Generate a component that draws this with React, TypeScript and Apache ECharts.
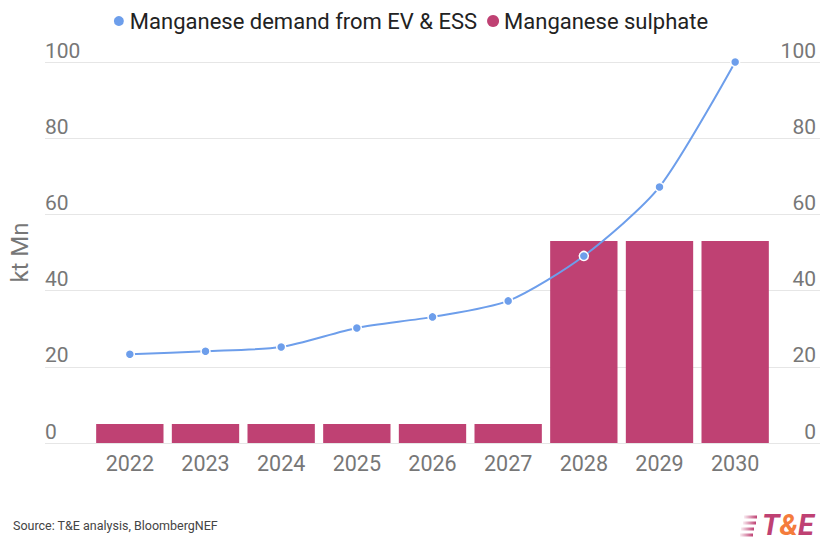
import React, { useEffect, useRef } from "react";
import * as echarts from "echarts";

const years = ["2022", "2023", "2024", "2025", "2026", "2027", "2028", "2029", "2030"];
const demand = [23.3, 24.1, 25.2, 30.2, 33.1, 37.3, 49.1, 67.2, 100];
const sulphate = [5, 5, 5, 5, 5, 5, 53, 53, 53];
const demandName = "Manganese demand from EV & ESS";
const sulphateName = "Manganese sulphate";
const yAxisTitle = "kt Mn";
const sourceText = "Source: T&E analysis, BloombergNEF";

const BLUE = "#6d9eeb";
const MAGENTA = "#bf4173";
const GREY = "#777777";
const FONT = "Roboto";

export default function App() {
  const ref = useRef<HTMLDivElement>(null);
  useEffect(() => {
    if (!ref.current) return;
    const chart = echarts.init(ref.current, undefined, { renderer: "svg" });
    const top = 62;
    const bottom = 98;
    const stripe = () =>
      new echarts.graphic.LinearGradient(0, 0, 1, 0, [
        { offset: 0, color: "rgba(191,65,115,0.1)" },
        { offset: 1, color: MAGENTA },
      ]);
    chart.setOption({
      animation: false,
      textStyle: { fontFamily: FONT },
      legend: {
        top: 5,
        left: "center",
        icon: "circle",
        itemWidth: 12,
        itemHeight: 12,
        itemGap: 10,
        textStyle: { fontSize: 22, color: "#222", fontFamily: FONT },
        data: [demandName, sulphateName],
      },
      grid: [
        { left: 45, right: 0, top, bottom },
        { left: 92, right: 47, top, bottom },
      ],
      xAxis: [
        { type: "value", gridIndex: 0, min: 0, max: 1, show: false },
        {
          type: "category",
          gridIndex: 1,
          data: years,
          axisLine: { show: false },
          axisTick: { show: false },
          axisLabel: { color: GREY, fontSize: 21.5, margin: 9, fontFamily: FONT },
        },
      ],
      yAxis: [
        {
          type: "value",
          gridIndex: 0,
          position: "left",
          min: 0,
          max: 100,
          interval: 20,
          name: yAxisTitle,
          nameLocation: "middle",
          nameGap: 13,
          nameTextStyle: { color: GREY, fontSize: 24, fontFamily: FONT },
          axisLine: { show: false },
          axisTick: { show: false },
          splitLine: { show: true, lineStyle: { color: "#e6e6e6", width: 1 } },
          axisLabel: {
            inside: true,
            margin: 0,
            verticalAlign: "bottom",
            padding: [0, 0, 1, 0],
            color: GREY,
            fontSize: 21,
            fontFamily: FONT,
          },
        },
        {
          type: "value",
          gridIndex: 0,
          position: "right",
          min: 0,
          max: 100,
          interval: 20,
          axisLine: { show: false },
          axisTick: { show: false },
          splitLine: { show: false },
          axisLabel: {
            inside: true,
            margin: 4,
            verticalAlign: "bottom",
            padding: [0, 0, 1, 0],
            color: GREY,
            fontSize: 21,
            fontFamily: FONT,
          },
        },
        { type: "value", gridIndex: 1, min: 0, max: 100, show: false },
      ],
      series: [
        {
          name: demandName,
          type: "line",
          xAxisIndex: 1,
          yAxisIndex: 2,
          data: demand,
          smooth: 0.25,
          z: 5,
          symbol: "circle",
          symbolSize: 9,
          lineStyle: { color: BLUE, width: 2 },
          itemStyle: { color: BLUE, borderColor: "#fff", borderWidth: 1.5 },
        },
        {
          name: sulphateName,
          type: "bar",
          xAxisIndex: 1,
          yAxisIndex: 2,
          data: sulphate,
          barCategoryGap: "11%",
          itemStyle: { color: MAGENTA },
        },
      ],
      graphic: [
        {
          type: "text",
          left: 13,
          top: 519,
          style: { text: sourceText, fontSize: 12.5, fill: "#444", fontFamily: FONT },
        },
        {
          type: "group",
          left: 740,
          top: 510,
          children: [
            { type: "rect", shape: { x: 4, y: 6, width: 13, height: 3 }, style: { fill: stripe() } },
            { type: "rect", shape: { x: 3, y: 12, width: 13, height: 3 }, style: { fill: stripe() } },
            { type: "rect", shape: { x: 1, y: 18, width: 13, height: 3 }, style: { fill: stripe() } },
            { type: "rect", shape: { x: 0, y: 24, width: 13, height: 3 }, style: { fill: stripe() } },
            {
              type: "text",
              x: 22,
              y: 0,
              style: {
                text: "{t|T}{a|&}{t|E}",
                fontFamily: FONT,
                rich: {
                  t: { fontSize: 29, lineHeight: 30, fontWeight: "bold", fontStyle: "italic", fill: MAGENTA, fontFamily: FONT },
                  a: { fontSize: 29, lineHeight: 30, fontWeight: "bold", fontStyle: "italic", fill: "#f47c3c", fontFamily: FONT },
                },
              },
            },
          ],
        },
      ],
    });
    return () => chart.dispose();
  }, []);
  return <div ref={ref} style={{ width: 820, height: 541, position: "absolute", left: 0, top: 0 }} />;
}
